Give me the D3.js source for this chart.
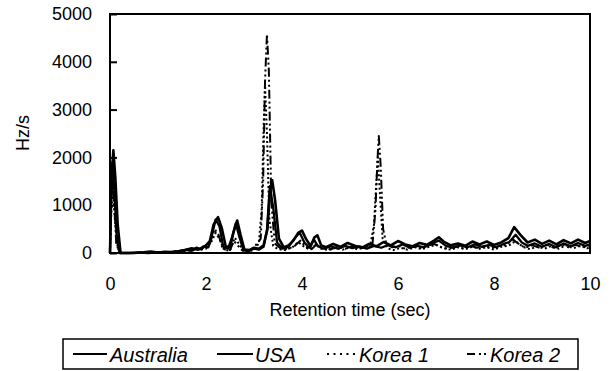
<!DOCTYPE html>
<html>
<head>
<meta charset="utf-8">
<script src="https://cdn.jsdelivr.net/npm/d3@7"></script>
<style>
  body { margin: 0; background: #fff; }
  svg { display: block; font-family: "Liberation Sans", Arial, sans-serif; }
</style>
</head>
<body>
<div id="chart"></div>
<script>
// tick values
const xTicks = [0, 2, 4, 6, 8, 10];
const yTicks = [0, 1000, 2000, 3000, 4000, 5000];
const seriesNames = ["Australia", "USA", "Korea 1", "Korea 2"];

// [retention time (sec), Hz/s]
const australia = [[0,0],[0.03,1500],[0.07,2150],[0.11,1600],[0.16,600],[0.22,0],[0.3,0],[0.5,0],[0.7,15],[0.85,30],[1.0,10],[1.15,25],[1.3,15],[1.45,40],[1.6,70],[1.7,50],[1.8,110],[1.9,80],[2.0,160],[2.08,250],[2.16,600],[2.25,750],[2.33,520],[2.41,140],[2.5,120],[2.57,420],[2.65,680],[2.72,380],[2.8,70],[2.9,60],[3.0,110],[3.1,90],[3.2,160],[3.28,500],[3.33,1250],[3.38,1520],[3.44,1100],[3.52,300],[3.62,120],[3.72,160],[3.82,260],[3.92,420],[4.0,470],[4.08,300],[4.18,140],[4.26,330],[4.32,370],[4.4,160],[4.5,120],[4.65,190],[4.8,130],[4.95,210],[5.1,150],[5.25,110],[5.4,190],[5.55,140],[5.7,230],[5.85,160],[6.0,250],[6.15,180],[6.3,140],[6.45,210],[6.6,170],[6.75,260],[6.85,330],[6.95,240],[7.1,160],[7.25,200],[7.4,150],[7.55,240],[7.7,180],[7.85,240],[8.0,170],[8.15,220],[8.3,310],[8.42,540],[8.55,380],[8.7,220],[8.85,280],[9.0,190],[9.15,260],[9.3,180],[9.45,270],[9.6,200],[9.75,280],[9.9,210],[10,250]];
const usa = [[0,0],[0.02,1100],[0.05,1900],[0.09,1300],[0.14,350],[0.2,0],[0.4,0],[0.6,10],[0.8,0],[1.0,20],[1.2,10],[1.4,35],[1.55,60],[1.7,100],[1.85,70],[1.95,140],[2.05,120],[2.12,350],[2.2,700],[2.28,560],[2.36,130],[2.46,90],[2.54,320],[2.62,620],[2.7,320],[2.78,60],[2.9,50],[3.0,90],[3.1,70],[3.2,130],[3.27,480],[3.33,1400],[3.4,950],[3.48,220],[3.6,90],[3.72,130],[3.84,300],[3.95,430],[4.05,220],[4.15,110],[4.25,280],[4.33,140],[4.45,90],[4.6,140],[4.75,90],[4.9,150],[5.05,100],[5.2,140],[5.35,90],[5.5,150],[5.65,110],[5.8,170],[5.95,120],[6.1,180],[6.25,110],[6.4,150],[6.55,120],[6.7,200],[6.85,260],[7.0,150],[7.15,110],[7.3,160],[7.45,120],[7.6,180],[7.75,130],[7.9,170],[8.05,120],[8.2,190],[8.32,230],[8.45,380],[8.58,220],[8.7,150],[8.85,200],[9.0,130],[9.15,190],[9.3,120],[9.45,200],[9.6,140],[9.75,210],[9.9,150],[10,180]];
const korea1 = [[0,0],[0.03,900],[0.06,1500],[0.1,700],[0.16,100],[0.22,0],[0.5,0],[0.8,10],[1.1,15],[1.4,30],[1.6,50],[1.8,60],[2.0,90],[2.12,250],[2.2,420],[2.28,300],[2.38,60],[2.5,50],[2.6,320],[2.68,200],[2.78,40],[2.9,30],[3.0,70],[3.1,200],[3.16,900],[3.2,2600],[3.23,3500],[3.27,2500],[3.32,700],[3.4,150],[3.5,80],[3.65,60],[3.8,120],[3.92,230],[4.02,150],[4.15,70],[4.3,180],[4.4,90],[4.55,60],[4.7,110],[4.85,70],[5.0,120],[5.15,80],[5.3,110],[5.42,140],[5.5,600],[5.55,1500],[5.58,2000],[5.62,1300],[5.68,300],[5.78,100],[5.9,60],[6.05,110],[6.2,70],[6.35,120],[6.5,80],[6.65,130],[6.8,170],[6.95,100],[7.1,70],[7.25,120],[7.4,80],[7.55,130],[7.7,90],[7.85,120],[8.0,70],[8.15,130],[8.3,150],[8.45,250],[8.6,130],[8.75,80],[8.9,140],[9.05,90],[9.2,150],[9.35,90],[9.5,160],[9.65,100],[9.8,150],[9.95,100],[10,120]];
const korea2 = [[0,0],[0.02,1000],[0.05,1800],[0.08,1200],[0.13,200],[0.2,0],[0.5,0],[0.9,10],[1.2,20],[1.5,40],[1.75,70],[1.95,100],[2.08,200],[2.18,500],[2.26,380],[2.35,80],[2.5,60],[2.58,250],[2.66,160],[2.76,50],[2.9,40],[3.0,120],[3.08,220],[3.14,300],[3.19,1500],[3.23,3600],[3.27,4580],[3.31,3800],[3.36,1100],[3.43,200],[3.55,100],[3.7,80],[3.85,150],[3.97,260],[4.07,130],[4.2,80],[4.32,200],[4.45,100],[4.6,80],[4.75,130],[4.9,90],[5.05,140],[5.2,100],[5.35,130],[5.47,200],[5.53,900],[5.57,1900],[5.6,2450],[5.64,1800],[5.69,500],[5.76,180],[5.88,120],[6.0,150],[6.15,90],[6.3,140],[6.45,100],[6.6,150],[6.75,190],[6.9,120],[7.05,90],[7.2,140],[7.35,100],[7.5,150],[7.65,110],[7.8,150],[7.95,100],[8.1,150],[8.25,170],[8.4,280],[8.5,200],[8.65,110],[8.8,160],[8.95,110],[9.1,170],[9.25,110],[9.4,180],[9.55,120],[9.7,170],[9.85,120],[10,140]];

const W = 611, H = 371;
const margin = { top: 14, right: 21, bottom: 118, left: 110 };
const width = W - margin.left - margin.right;
const height = H - margin.top - margin.bottom;

const styles = [
  { data: australia, width: 2.6, dash: null },
  { data: usa, width: 2.3, dash: null },
  { data: korea1, width: 2, dash: "2,2.5" },
  { data: korea2, width: 2, dash: "9,3,2,3,2,3" }
];

const svg = d3.select("#chart").append("svg")
  .attr("width", W)
  .attr("height", H);

const g = svg.append("g")
  .attr("transform", `translate(${margin.left},${margin.top})`);

const x = d3.scaleLinear().domain([0, 10]).range([0, width]);
const y = d3.scaleLinear().domain([0, 5000]).range([height, 0]);

const line = d3.line()
  .x(d => x(d[0]))
  .y(d => y(d[1]));

// series
styles.forEach(s => {
  g.append("path")
    .datum(s.data)
    .attr("fill", "none")
    .attr("stroke", "#000")
    .attr("stroke-width", s.width)
    .attr("stroke-linejoin", "round")
    .attr("stroke-dasharray", s.dash)
    .attr("d", line);
});

// y axis, ticks pointing in
const yAxis = g.append("g")
  .call(d3.axisLeft(y).tickValues(yTicks).tickFormat(d3.format("d"))
    .tickSizeInner(-7).tickSizeOuter(0).tickPadding(18));
yAxis.select(".domain").remove();
yAxis.selectAll("line").attr("stroke-width", 2);
yAxis.selectAll("text").attr("font-size", 18).attr("fill", "#000")
  .attr("font-family", "Liberation Sans, Arial, sans-serif");

const xAxis = g.append("g")
  .attr("transform", `translate(0,${height})`)
  .call(d3.axisBottom(x).tickValues(xTicks).tickFormat(d3.format("d"))
    .tickSize(0).tickPadding(24));
xAxis.select(".domain").remove();
xAxis.selectAll("text").attr("font-size", 18).attr("fill", "#000")
  .attr("font-family", "Liberation Sans, Arial, sans-serif");

// frame
g.append("rect")
  .attr("width", width)
  .attr("height", height)
  .attr("fill", "none")
  .attr("stroke", "#000")
  .attr("stroke-width", 2);

// titles
svg.append("text")
  .attr("x", margin.left + width / 2)
  .attr("y", 316)
  .attr("text-anchor", "middle")
  .attr("font-size", 18)
  .text("Retention time (sec)");

svg.append("text")
  .attr("transform", "translate(29,133) rotate(-90)")
  .attr("text-anchor", "middle")
  .attr("font-size", 18)
  .text("Hz/s");

// legend
const legend = svg.append("g");
legend.append("rect")
  .attr("x", 63).attr("y", 339)
  .attr("width", 515).attr("height", 30)
  .attr("fill", "none")
  .attr("stroke", "#000")
  .attr("stroke-width", 1.5);

const legendPos = [
  { x1: 73, x2: 107, tx: 110 },
  { x1: 217, x2: 253, tx: 255 },
  { x1: 327, x2: 357, tx: 359 },
  { x1: 467, x2: 488, tx: 490 }
];
const legendDash = [null, null, "2,4.5", "8,4,2,3,2,3"];

seriesNames.forEach((name, i) => {
  const p = legendPos[i];
  legend.append("line")
    .attr("x1", p.x1).attr("x2", p.x2)
    .attr("y1", 354).attr("y2", 354)
    .attr("stroke", "#000")
    .attr("stroke-width", 1.8)
    .attr("stroke-dasharray", legendDash[i]);
  legend.append("text")
    .attr("x", p.tx).attr("y", 362)
    .attr("font-size", 20)
    .attr("font-style", "italic")
    .text(name);
});
</script>
</body>
</html>
